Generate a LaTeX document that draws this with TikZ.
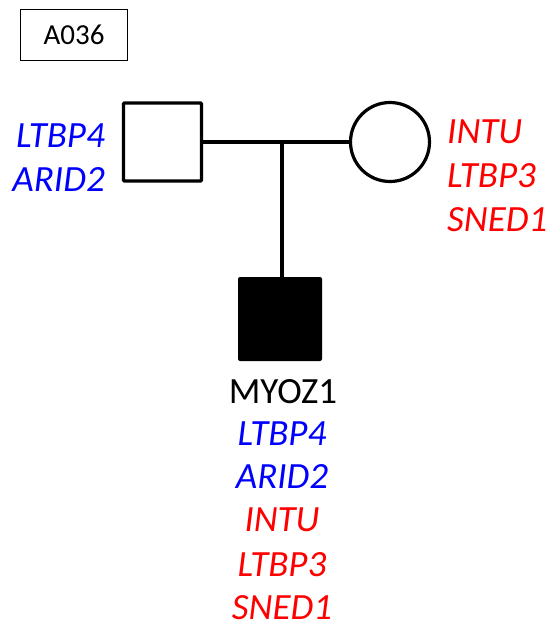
\documentclass[tikz,border=0pt]{standalone}
\usepackage{fontspec}
\setmainfont{Carlito}
\definecolor{geneblue}{RGB}{0,0,255}
\definecolor{genered}{RGB}{255,0,0}
\begin{document}
\begin{tikzpicture}[x=1pt,y=-1pt,
  gene/.style={font=\fontsize{37}{44}\selectfont\itshape, inner sep=0pt, text depth=0pt},
  plain/.style={font=\fontsize{37}{44}\selectfont, inner sep=0pt, text depth=0pt},
  male/.style={draw, line width=3.2pt, minimum size=78pt, inner sep=0pt, rounded corners=1pt},
  female/.style={draw, circle, line width=3.2pt, minimum size=79pt, inner sep=0pt},
  affected/.style={fill=black, minimum size=84pt, inner sep=0pt, rounded corners=2pt},
  link/.style={line width=3.2pt}]
\useasboundingbox (0,0) rectangle (552,627);
\node[draw, line width=1.5pt, minimum width=107pt, minimum height=51pt, inner sep=0pt,
  font=\fontsize{29}{32}\selectfont] (tag) at (74,35) {A036};
\node[male] (father) at (162.5,142) {};
\node[female] (mother) at (390,142) {};
\node[affected] (child) at (280,319) {};
\coordinate (mid) at (282,142);
\draw[link] (father.east) -- (mother.west);
\draw[link] (mid) -- (mid |- child.north);
% father genes
\node[gene, text=geneblue, anchor=base east] (f1) at (105,147) {LTBP4};
\node[gene, text=geneblue, anchor=base east] (f2) at (105,191) {ARID2};
% mother genes
\node[gene, text=genered, anchor=base west] (m1) at (447,143) {INTU};
\node[gene, text=genered, anchor=base west] (m2) at (447,187) {LTBP3};
\node[gene, text=genered, anchor=base west] (m3) at (447,231) {SNED1};
% child genes
\node[plain, anchor=base] (c0) at (283,403) {MYOZ1};
\node[gene, text=geneblue, anchor=base] (c1) at (282,445) {LTBP4};
\node[gene, text=geneblue, anchor=base] (c2) at (282,488) {ARID2};
\node[gene, text=genered, anchor=base] (c3) at (282,531) {INTU};
\node[gene, text=genered, anchor=base] (c4) at (282,576) {LTBP3};
\node[gene, text=genered, anchor=base] (c5) at (282,619) {SNED1};
\end{tikzpicture}
\end{document}
